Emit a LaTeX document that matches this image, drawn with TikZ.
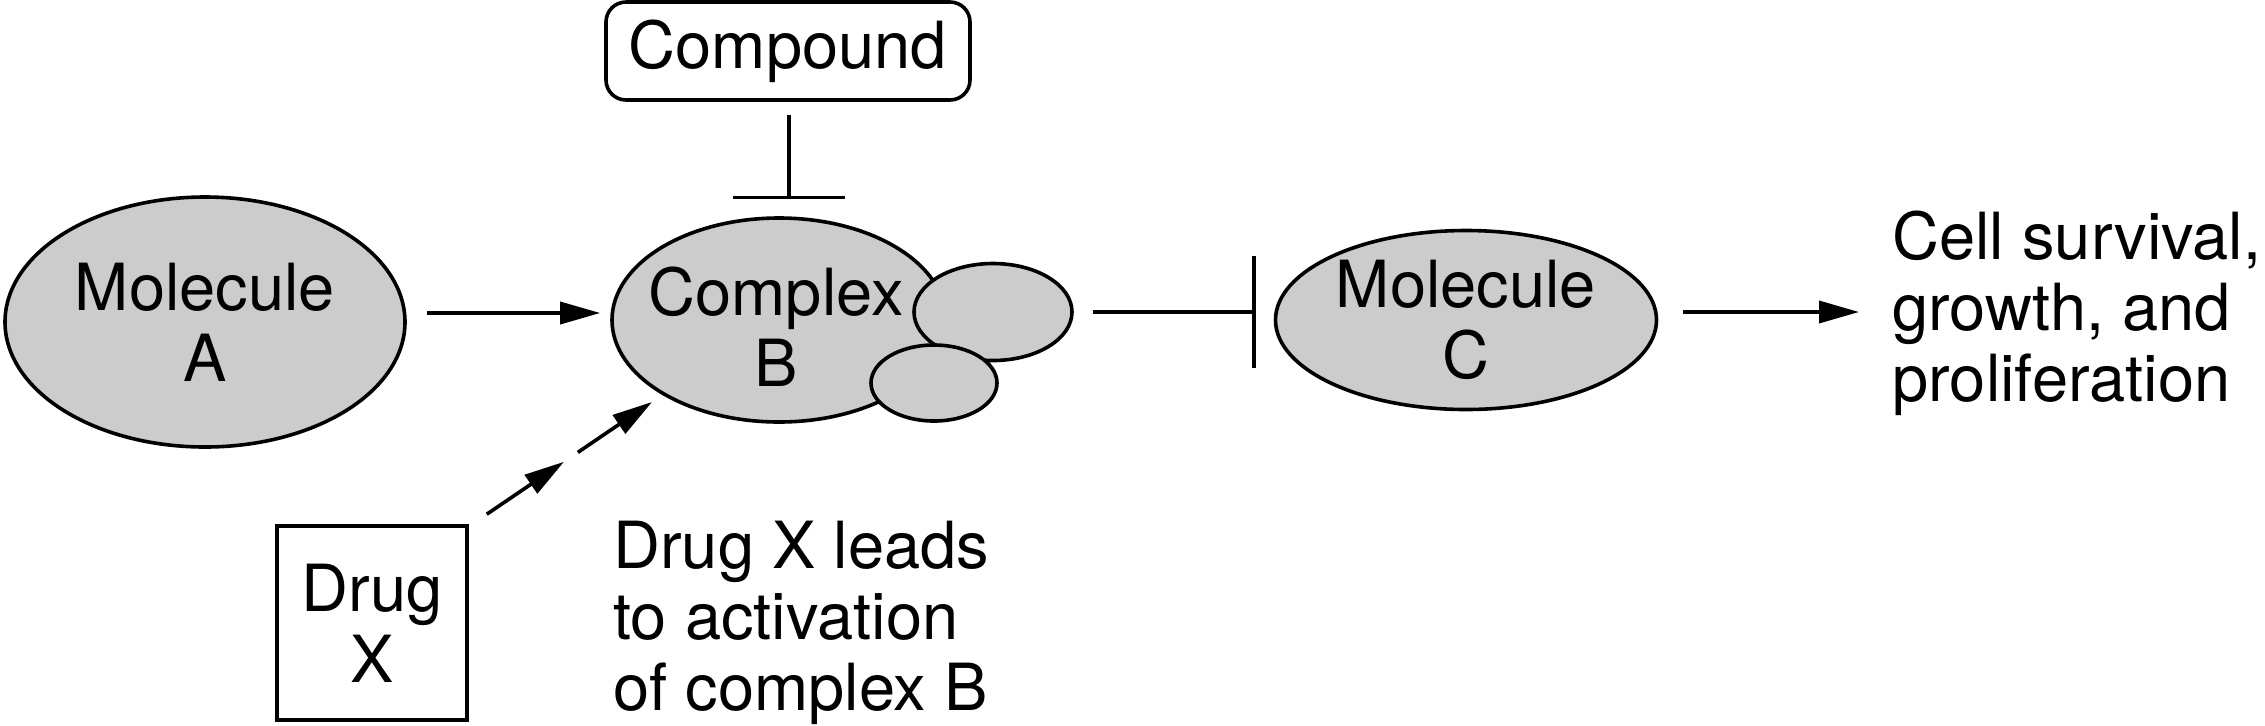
\documentclass[tikz,border=0pt]{standalone}
\usepackage{fontspec}
\setmainfont{TeX Gyre Heros}
\usetikzlibrary{arrows.meta,shapes.geometric,calc}
\definecolor{molgray}{gray}{0.8}
\begin{document}
\begin{tikzpicture}[x=0.5pt,y=-0.5pt,
  every node/.style={font=\fontsize{32.5}{35.5}\selectfont, inner sep=0pt},
  mol/.style={ellipse, draw, fill=molgray, line width=1.8pt, align=center},
  box/.style={draw, line width=1.8pt, align=center},
  arr/.style={-{Triangle[length=20pt,width=11pt]}, line width=1.8pt},
  inh/.style={-{Bar[width=56pt]}, line width=1.8pt}]
\useasboundingbox (0,0) rectangle (2265,725);

% nodes
\node[mol, minimum width=200pt, minimum height=125pt] (A) at (205,322) {Molecule\\A};
\node[mol, minimum width=167pt, minimum height=102pt] (B) at (779,320) {};
\node[align=center] (Btext) at (776,327) {Complex\\B};
\node[mol, minimum width=79pt, minimum height=48.5pt] (s1) at (993,312) {};
\node[mol, minimum width=63pt, minimum height=38pt] (s2) at (934,383) {};
\node[mol, minimum width=190.5pt, minimum height=89.5pt] (C) at (1466,320) {Molecule\\C};
\node[box, rounded corners=10pt, minimum width=182pt, minimum height=49pt] (cmp) at (788,51) {Compound};
\node[box, minimum width=95pt, minimum height=97pt] (drug) at (372,623) {Drug\\X};
\node[anchor=north west, align=left] (lead) at (613,521) {Drug X leads\\to activation\\of complex B};
\node[anchor=north west, align=left] (cell) at (1892,211) {Cell survival,\\growth, and\\proliferation};

% connectors
\draw[arr] ($(A.east)+(20,-9)$) -- ($(A.east -| B.west)+(-10,-9)$);
\draw[inh] ($(cmp.south)+(1,13)$) -- ($(cmp.south |- B.north)+(1,-17)$);
\draw[inh] ($(s1.east)+(19,0)$) -- ($(s1.east -| C.west)+(-18,0)$);
\draw[arr] ($(C.east)+(25,-8)$) -- ($(C.east -| cell.west)+(-33,-8)$);

\coordinate (d0) at ($(drug.north east)+(18,-10)$);
\coordinate (d3) at (652,402);
\draw[arr] (d0) -- ($(d0)!0.467!(d3)$);
\draw[arr] ($(d0)!0.551!(d3)$) -- (d3);
\end{tikzpicture}
\end{document}
